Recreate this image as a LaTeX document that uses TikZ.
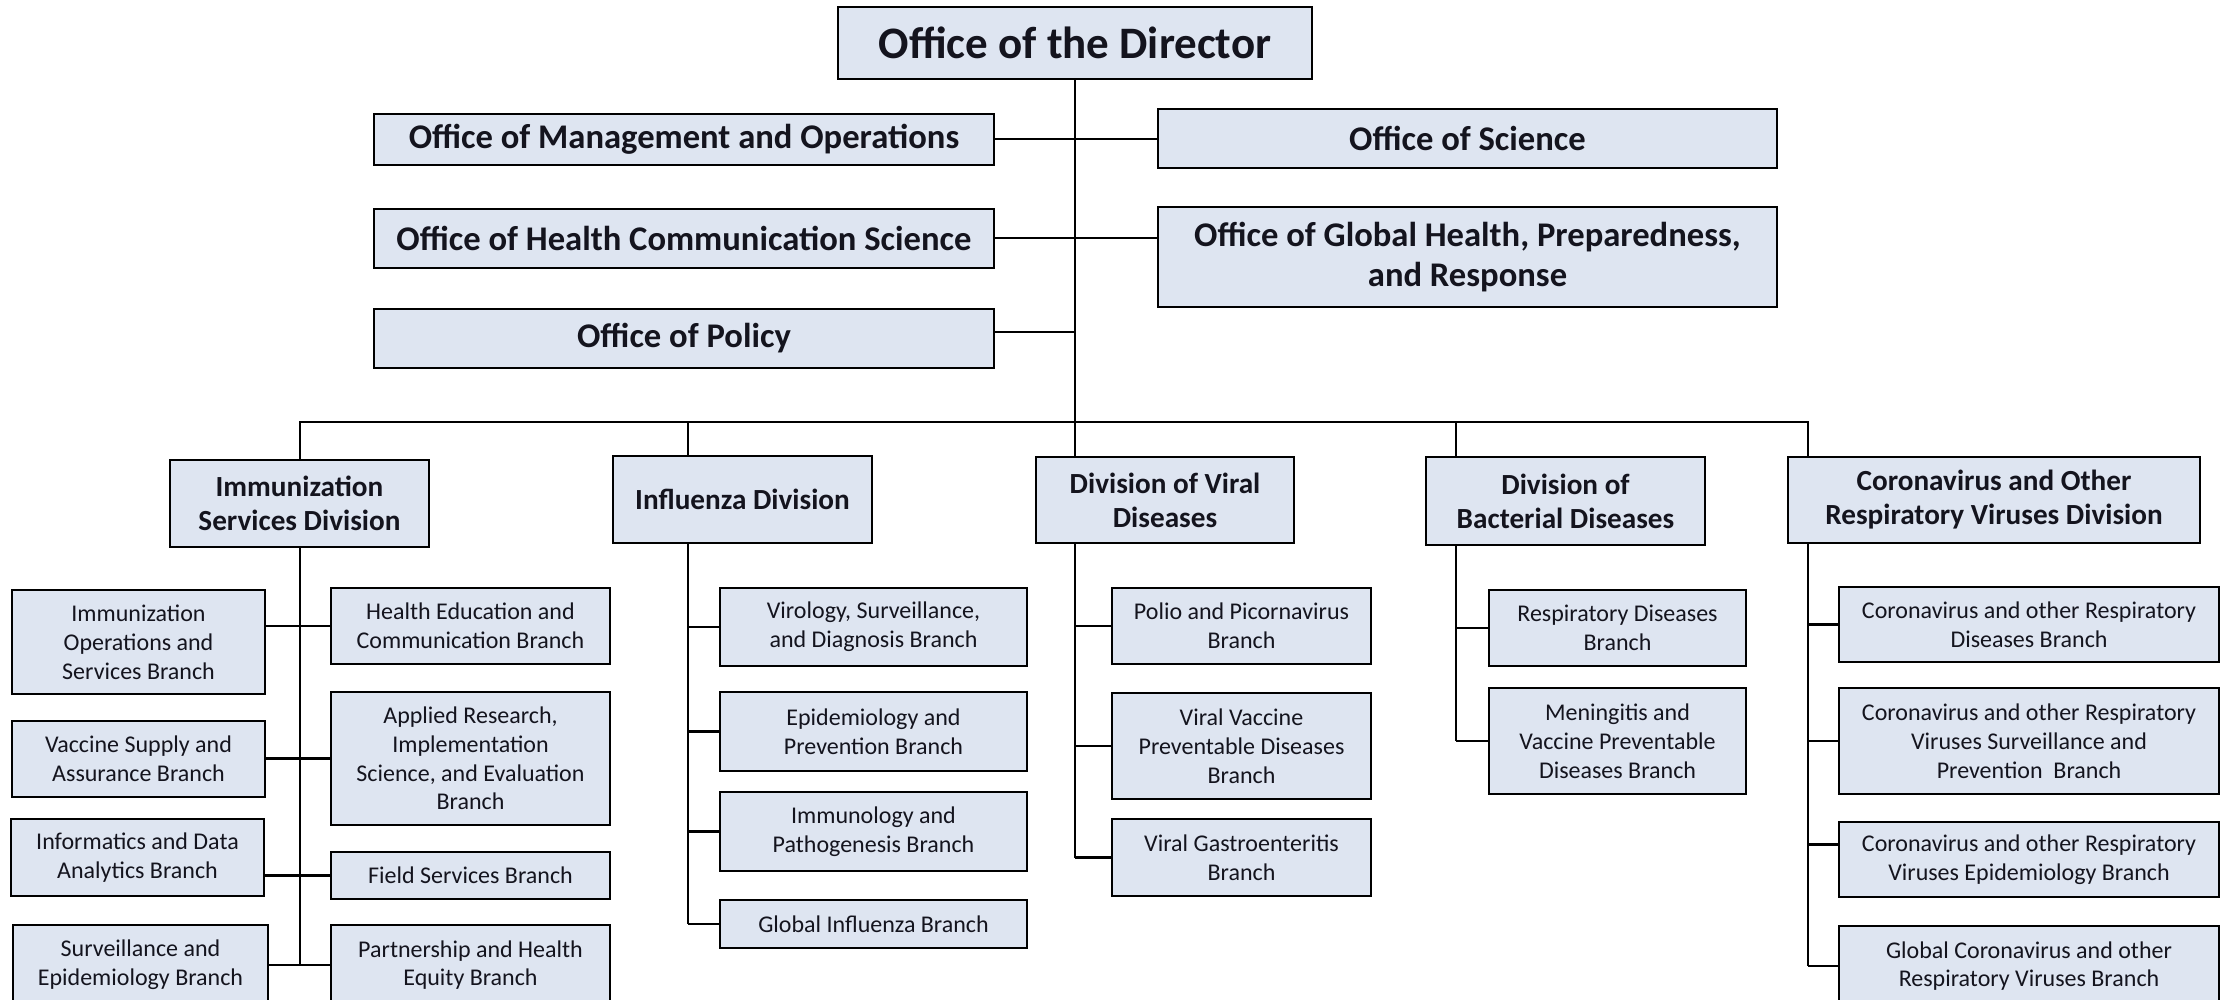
\documentclass[tikz,border=0pt]{standalone}
\usepackage{fontspec}
\setmainfont{Carlito}
\definecolor{boxfill}{RGB}{222,229,241}
\definecolor{txt}{RGB}{20,20,30}
\begin{document}
\begin{tikzpicture}[x=0.5pt,y=-0.5pt,
  box/.style={draw=black,fill=boxfill,line width=1.3pt,inner sep=0pt,align=center,text=txt},
  dirbox/.style={box,font=\fontsize{22.5}{27}\selectfont\bfseries},
  offbox/.style={box,font=\fontsize{17.3}{20}\selectfont\bfseries},
  divbox/.style={box,font=\fontsize{14.6}{17}\selectfont\bfseries},
  brbox/.style={box,font=\fontsize{12}{14.4}\selectfont},
  conn/.style={line width=1pt,draw=black},
  thickconn/.style={line width=1.4pt,draw=black}]
\useasboundingbox (0,0) rectangle (2227,1000);
\fill[white] (0,0) rectangle (2227,1000);

\coordinate (busL) at (300,422);
\coordinate (infdrop) at (688,422);
\coordinate (trunk) at (1075,422);
\coordinate (bacdrop) at (1456,422);
\coordinate (busR) at (1808,422);

% Top level
\node[dirbox,minimum width=237pt,minimum height=36pt] (dir) at (1075,43) {Office of the Director};

\node[offbox,minimum width=310pt,minimum height=25.5pt] (omo) at (684,139.5) {Office of Management and Operations};
\node[offbox,minimum width=310pt,minimum height=29.5pt] (ohcs) at (684,238.5) {Office of Health Communication Science};
\node[offbox,minimum width=310pt,minimum height=29.5pt] (pol) at (684,338.5) {Office of Policy};
\node[offbox,minimum width=309.5pt,minimum height=29.5pt] (os) at (1467.5,138.5) {Office of Science};
\node[offbox,minimum width=309.5pt,minimum height=50pt] (ogh) at (1467.5,257) {Office of Global Health, Preparedness,\\and Response};

% Divisions
\node[divbox,minimum width=129.5pt,minimum height=43.5pt] (imm) at (299.5,503.5) {Immunization\\Services Division};
\node[divbox,minimum width=129.5pt,minimum height=43.5pt] (inf) at (742.5,499.5) {Influenza Division};
\node[divbox,minimum width=129pt,minimum height=43pt] (vir) at (1165,500) {Division of Viral\\Diseases};
\node[divbox,minimum width=139.5pt,minimum height=44pt] (bac) at (1565.5,501) {Division of\\Bacterial Diseases};
\node[divbox,minimum width=206pt,minimum height=43pt] (cor) at (1994,500) {Coronavirus and Other\\Respiratory Viruses Division};

% Immunization branches
\node[brbox,minimum width=126.5pt,minimum height=52pt] (ios) at (138.5,642) {Immunization\\Operations and\\Services Branch};
\node[brbox,minimum width=126.5pt,minimum height=38pt] (vsa) at (138.5,759) {Vaccine Supply and\\Assurance Branch};
\node[brbox,minimum width=126.5pt,minimum height=38.5pt] (ida) at (137.5,857.5) {Informatics and Data\\Analytics Branch};
\node[brbox,minimum width=127.5pt,minimum height=40pt] (sep) at (140.5,965) {Surveillance and\\Epidemiology Branch};
\node[brbox,minimum width=139.5pt,minimum height=38pt] (hec) at (470.5,626) {Health Education and\\Communication Branch};
\node[brbox,minimum width=139.5pt,minimum height=66.5pt] (ari) at (470.5,758.5) {Applied Research,\\Implementation\\Science, and Evaluation\\Branch};
\node[brbox,minimum width=139.5pt,minimum height=23.5pt] (fsb) at (470.5,875.5) {Field Services Branch};
\node[brbox,minimum width=139.5pt,minimum height=40pt] (phe) at (470.5,965) {Partnership and Health\\Equity Branch};

% Influenza branches
\node[brbox,minimum width=153.5pt,minimum height=39pt] (vsd) at (873.5,627) {Virology, Surveillance,\\and Diagnosis Branch};
\node[brbox,minimum width=153.5pt,minimum height=39.5pt] (epb) at (873.5,731.5) {Epidemiology and\\Prevention Branch};
\node[brbox,minimum width=153.5pt,minimum height=39.5pt] (ipb) at (873.5,831.5) {Immunology and\\Pathogenesis Branch};
\node[brbox,minimum width=153.5pt,minimum height=24pt] (gib) at (873.5,924) {Global Influenza Branch};

% Viral branches
\node[brbox,minimum width=129.5pt,minimum height=38pt] (ppb) at (1241.5,626) {Polio and Picornavirus\\Branch};
\node[brbox,minimum width=129.5pt,minimum height=53pt] (vvp) at (1241.5,746) {Viral Vaccine\\Preventable Diseases\\Branch};
\node[brbox,minimum width=129.5pt,minimum height=38.5pt] (vgb) at (1241.5,857.5) {Viral Gastroenteritis\\Branch};

% Bacterial branches
\node[brbox,minimum width=128.5pt,minimum height=38pt] (rdb) at (1617.5,628) {Respiratory Diseases\\Branch};
\node[brbox,minimum width=128.5pt,minimum height=53pt] (mvp) at (1617.5,741) {Meningitis and\\Vaccine Preventable\\Diseases Branch};

% Coronavirus branches
\node[brbox,minimum width=190pt,minimum height=37.5pt] (crd) at (2029,624.5) {Coronavirus and other Respiratory\\Diseases Branch};
\node[brbox,minimum width=190pt,minimum height=53pt] (crs) at (2029,741) {Coronavirus and other Respiratory\\Viruses Surveillance and\\Prevention\ \ Branch};
\node[brbox,minimum width=190pt,minimum height=37.5pt] (cre) at (2029,859.5) {Coronavirus and other Respiratory\\Viruses Epidemiology Branch};
\node[brbox,minimum width=190pt,minimum height=40pt] (gcr) at (2029,966) {Global Coronavirus and other\\Respiratory Viruses Branch};

% ---- connectors ----
\draw[conn] (dir.south) -- (dir.south |- vir.north);
\draw[conn] (omo.east) -- (omo.east -| os.west);
\draw[conn] (ohcs.east) -- (ohcs.east -| ogh.west);
\draw[thickconn] ([yshift=3.25pt]pol.east) -- ([yshift=3.25pt]pol.east -| dir.south);
\draw[conn] (busL |- imm.north) -- (busL) -- (busR) -- (busR |- cor.north);
\draw[conn] (infdrop) -- (infdrop |- inf.north);
\draw[conn] (bacdrop) -- (bacdrop |- bac.north);

% Immunization
\draw[conn] (imm.south) -- (imm.south |- sep.east);
\draw[thickconn] (ios.east |- hec.west) -- (hec.west);
\draw[thickconn] (vsa.east |- ari.west) -- (ari.west);
\draw[thickconn] (ida.east |- fsb.west) -- (fsb.west);
\draw[thickconn] (sep.east) -- (phe.west);

% Influenza
\draw[conn] (infdrop |- inf.south) -- (infdrop |- gib.west);
\draw[thickconn] (infdrop |- vsd.west) -- (vsd.west);
\draw[thickconn] (infdrop |- epb.west) -- (epb.west);
\draw[thickconn] (infdrop |- ipb.west) -- (ipb.west);
\draw[thickconn] (infdrop |- gib.west) -- (gib.west);

% Viral
\draw[conn] (trunk |- vir.south) -- (trunk |- vgb.west);
\draw[thickconn] (trunk |- ppb.west) -- (ppb.west);
\draw[thickconn] (trunk |- vvp.west) -- (vvp.west);
\draw[thickconn] (trunk |- vgb.west) -- (vgb.west);

% Bacterial
\draw[conn] (bacdrop |- bac.south) -- (bacdrop |- mvp.west);
\draw[thickconn] (bacdrop |- rdb.west) -- (rdb.west);
\draw[thickconn] (bacdrop |- mvp.west) -- (mvp.west);

% Coronavirus
\draw[conn] (busR |- cor.south) -- (busR |- gcr.west);
\draw[thickconn] (busR |- crd.west) -- (crd.west);
\draw[thickconn] (busR |- crs.west) -- (crs.west);
\draw[thickconn] ([yshift=7.5pt]busR |- cre.west) -- ([yshift=7.5pt]cre.west);
\draw[thickconn] (busR |- gcr.west) -- (gcr.west);
\end{tikzpicture}
\end{document}
